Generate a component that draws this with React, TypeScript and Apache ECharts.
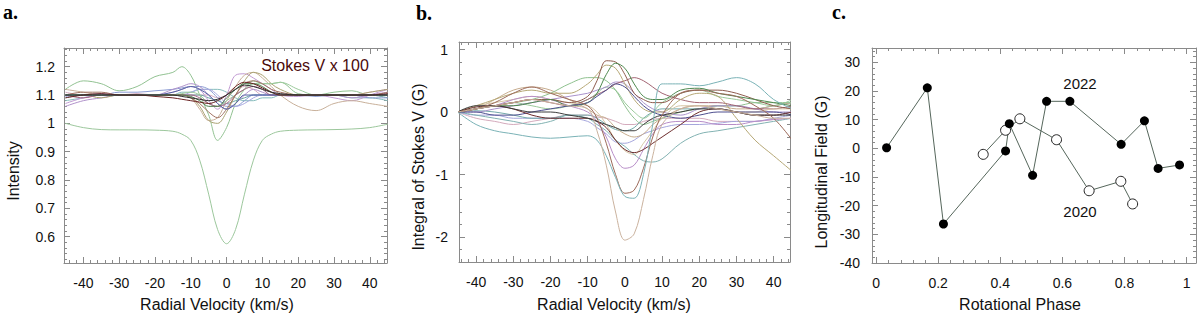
import React, { useEffect, useRef } from "react";
import * as echarts from "echarts";

// ---------- Panel a: velocity grid & profiles ----------
const VA = [-45, -40, -35, -30, -25, -20, -15, -12.5, -10, -7.5, -5, -2.5, 0, 2.5, 5, 7.5, 10, 12.5, 15, 20, 25, 30, 35, 40, 45];
const A_STOKES_I = [1.0, 0.985, 0.978, 0.977, 0.977, 0.976, 0.972, 0.962, 0.94, 0.87, 0.75, 0.625, 0.575, 0.625, 0.75, 0.87, 0.94, 0.962, 0.972, 0.976, 0.977, 0.978, 0.98, 0.985, 0.997];
const A_GREEN_OUT = [1.12, 1.15, 1.14, 1.115, 1.13, 1.165, 1.18, 1.2, 1.17, 1.1, 1.03, 0.94, 0.985, 1.07, 1.12, 1.15, 1.14, 1.14, 1.145, 1.105, 1.1, 1.11, 1.115, 1.1, 1.1];
const A_BLACK = [1.1, 1.1, 1.1, 1.1, 1.1, 1.1, 1.1, 1.095, 1.09, 1.085, 1.08, 1.085, 1.1, 1.12, 1.135, 1.13, 1.12, 1.11, 1.105, 1.1, 1.1, 1.1, 1.1, 1.1, 1.1];
const A_DARKRED = [1.09, 1.1, 1.105, 1.1, 1.1, 1.095, 1.09, 1.085, 1.08, 1.075, 1.07, 1.08, 1.1, 1.13, 1.145, 1.14, 1.125, 1.11, 1.1, 1.1, 1.1, 1.1, 1.1, 1.1, 1.105];
const A_PURPLE = [1.07, 1.09, 1.1, 1.1, 1.1, 1.1, 1.11, 1.12, 1.13, 1.12, 1.08, 1.05, 1.1, 1.17, 1.175, 1.16, 1.14, 1.12, 1.1, 1.095, 1.1, 1.09, 1.08, 1.1, 1.12];
const A_TAN = [1.12, 1.11, 1.1, 1.1, 1.1, 1.1, 1.1, 1.1, 1.09, 1.05, 1.01, 1.02, 1.08, 1.13, 1.17, 1.18, 1.16, 1.13, 1.1, 1.06, 1.045, 1.07, 1.08, 1.07, 1.06];
const A_OLIVE = [1.1, 1.1, 1.09, 1.1, 1.1, 1.1, 1.1, 1.1, 1.09, 1.06, 1.01, 1.0, 1.04, 1.1, 1.15, 1.18, 1.17, 1.14, 1.12, 1.1, 1.1, 1.1, 1.1, 1.11, 1.12];
const A_BLUE = [1.1, 1.1, 1.1, 1.11, 1.11, 1.115, 1.12, 1.125, 1.13, 1.13, 1.12, 1.09, 1.06, 1.06, 1.08, 1.1, 1.1, 1.1, 1.1, 1.1, 1.095, 1.1, 1.1, 1.09, 1.09];
const A_TEAL = [1.08, 1.09, 1.1, 1.1, 1.1, 1.1, 1.1, 1.11, 1.11, 1.12, 1.12, 1.12, 1.11, 1.09, 1.08, 1.08, 1.09, 1.09, 1.1, 1.1, 1.1, 1.1, 1.09, 1.09, 1.08];
const A_PURPLE2 = [1.06, 1.08, 1.09, 1.1, 1.1, 1.1, 1.12, 1.13, 1.14, 1.13, 1.1, 1.07, 1.05, 1.07, 1.1, 1.12, 1.11, 1.1, 1.1, 1.1, 1.1, 1.1, 1.09, 1.1, 1.11];
const A_NAVY = [1.1, 1.1, 1.1, 1.1, 1.1, 1.1, 1.11, 1.12, 1.13, 1.12, 1.1, 1.07, 1.05, 1.07, 1.1, 1.1, 1.1, 1.1, 1.1, 1.1, 1.1, 1.1, 1.1, 1.1, 1.1];
const A_DKGREEN = [1.1, 1.1, 1.1, 1.1, 1.1, 1.1, 1.1, 1.1, 1.095, 1.08, 1.06, 1.06, 1.09, 1.12, 1.14, 1.14, 1.13, 1.11, 1.1, 1.1, 1.1, 1.1, 1.1, 1.1, 1.1];
const A_BROWN = [1.1, 1.11, 1.11, 1.1, 1.1, 1.1, 1.1, 1.1, 1.09, 1.07, 1.04, 1.02, 1.05, 1.1, 1.14, 1.15, 1.14, 1.12, 1.11, 1.1, 1.1, 1.1, 1.1, 1.1, 1.11];
const A_PINK = [1.11, 1.1, 1.1, 1.1, 1.105, 1.1, 1.1, 1.1, 1.1, 1.1, 1.1, 1.09, 1.1, 1.12, 1.13, 1.12, 1.1, 1.1, 1.1, 1.1, 1.1, 1.1, 1.1, 1.11, 1.12];
const A_LTGREEN = [1.1, 1.1, 1.1, 1.1, 1.1, 1.1, 1.1, 1.105, 1.11, 1.1, 1.07, 1.06, 1.08, 1.1, 1.12, 1.14, 1.14, 1.14, 1.145, 1.12, 1.1, 1.1, 1.1, 1.1, 1.1];
const A_TEAL2 = [1.09, 1.1, 1.1, 1.1, 1.1, 1.1, 1.1, 1.1, 1.1, 1.1, 1.09, 1.08, 1.07, 1.08, 1.09, 1.1, 1.1, 1.1, 1.1, 1.1, 1.1, 1.1, 1.1, 1.1, 1.09];
const A_LAVENDER = [1.095, 1.1, 1.105, 1.1, 1.1, 1.1, 1.1, 1.1, 1.11, 1.12, 1.12, 1.1, 1.07, 1.06, 1.07, 1.09, 1.1, 1.1, 1.1, 1.1, 1.1, 1.1, 1.1, 1.1, 1.1];
const A_MAUVE = [1.1, 1.09, 1.1, 1.1, 1.1, 1.1, 1.1, 1.1, 1.1, 1.09, 1.07, 1.06, 1.07, 1.1, 1.12, 1.13, 1.12, 1.1, 1.1, 1.1, 1.1, 1.1, 1.1, 1.1, 1.1];

// ---------- Panel b: integrated Stokes V ----------
const VB = [-45, -40, -35, -30, -25, -20, -15, -10, -7.5, -5, -2.5, 0, 2.5, 5, 7.5, 10, 15, 20, 25, 30, 35, 40, 45];
const B_TAN_DEEP = [0, 0.05, 0.1, 0.15, 0.2, 0.15, 0.1, 0.05, -0.3, -0.85, -1.6, -2.05, -1.95, -1.4, -0.7, -0.2, 0.05, 0.1, 0.05, 0.0, -0.05, -0.1, -0.1];
const B_TEAL_DEEP = [0, -0.2, -0.3, -0.35, -0.4, -0.42, -0.4, -0.38, -0.45, -0.7, -1.05, -1.35, -1.38, -1.0, -0.2, 0.45, 0.45, 0.42, 0.48, 0.55, 0.45, 0.2, 0.05];
const B_BROWN_DEEP = [0, 0.05, 0.15, 0.3, 0.4, 0.3, 0.2, 0.1, -0.1, -0.5, -1.0, -1.3, -1.25, -0.9, -0.4, -0.05, 0.3, 0.35, 0.3, 0.25, 0.1, -0.1, -0.45];
const B_PURPLE = [0, 0.05, 0.1, 0.2, 0.25, 0.2, 0.1, 0.0, -0.15, -0.4, -0.75, -0.9, -0.85, -0.6, -0.35, -0.2, -0.15, -0.15, -0.2, -0.2, -0.15, -0.12, -0.1];
const B_TEAL2 = [0, -0.05, -0.1, -0.15, -0.2, -0.15, -0.05, -0.1, -0.2, -0.3, -0.45, -0.55, -0.68, -0.78, -0.8, -0.75, -0.5, -0.35, -0.3, -0.25, -0.2, -0.15, -0.1];
const B_LTTAN = [0, 0.1, 0.15, 0.2, 0.25, 0.2, 0.15, 0.1, 0.0, -0.2, -0.45, -0.62, -0.68, -0.5, -0.3, -0.1, 0.1, 0.1, 0.05, 0.0, 0.0, 0.05, 0.05];
const B_LAVENDER = [0, -0.05, -0.05, -0.1, -0.1, -0.1, -0.1, -0.15, -0.25, -0.35, -0.48, -0.5, -0.45, -0.35, -0.3, -0.25, -0.2, -0.2, -0.18, -0.15, -0.15, -0.1, -0.05];
const B_OLIVE = [0, 0.1, 0.2, 0.3, 0.35, 0.3, 0.3, 0.45, 0.6, 0.75, 0.7, 0.45, 0.2, 0.05, 0.0, 0.0, 0.2, 0.3, 0.25, -0.1, -0.45, -0.7, -0.95];
const B_BROWN_PEAK = [0, 0.05, 0.1, 0.15, 0.2, 0.2, 0.15, 0.25, 0.5, 0.82, 0.8, 0.6, 0.3, 0.2, 0.15, 0.15, 0.3, 0.35, 0.35, 0.3, 0.2, 0.1, 0.05];
const B_DKGREEN = [0, 0.05, 0.1, 0.1, 0.15, 0.2, 0.1, 0.15, 0.3, 0.6, 0.78, 0.7, 0.45, 0.25, 0.2, 0.2, 0.35, 0.38, 0.3, 0.25, 0.2, 0.15, 0.1];
const B_GREEN = [0, 0.05, 0.1, 0.15, 0.2, 0.3, 0.45, 0.55, 0.55, 0.5, 0.35, 0.1, -0.1, -0.2, -0.15, -0.1, 0.0, 0.05, 0.1, 0.1, 0.15, 0.15, 0.15];
const B_MAUVE = [0, 0.05, 0.1, 0.15, 0.2, 0.15, 0.1, 0.2, 0.28, 0.35, 0.45, 0.5, 0.55, 0.5, 0.4, 0.3, 0.2, 0.15, 0.15, 0.1, 0.05, 0.05, 0.1];
const B_PURPLE2 = [0, 0.0, 0.05, 0.1, 0.15, 0.2, 0.25, 0.3, 0.35, 0.4, 0.48, 0.45, 0.3, 0.15, 0.05, 0.0, -0.05, 0.05, 0.1, 0.1, 0.05, 0.0, 0.0];
const B_NAVY = [0, 0.0, -0.05, -0.05, 0.0, 0.05, 0.1, 0.15, 0.25, 0.35, 0.45, 0.4, 0.25, 0.1, 0.0, -0.05, -0.1, -0.05, 0.0, 0.0, 0.0, 0.0, -0.05];
const B_BLACK = [0, 0.1, 0.1, 0.05, 0.0, 0.0, -0.05, -0.1, -0.15, -0.2, -0.25, -0.3, -0.3, -0.2, -0.1, -0.05, 0.0, 0.05, 0.05, 0.0, -0.05, -0.05, -0.05];
const B_DARKRED = [0, 0.08, 0.1, 0.05, -0.05, -0.1, -0.1, -0.1, -0.15, -0.25, -0.45, -0.6, -0.65, -0.6, -0.5, -0.4, -0.2, 0.0, 0.05, 0.0, -0.05, -0.05, 0.0];
const B_TEAL3 = [0, 0.02, 0.0, -0.05, -0.1, -0.1, -0.05, -0.05, -0.1, -0.2, -0.28, -0.3, -0.25, -0.1, 0.0, 0.05, 0.05, 0.05, 0.1, 0.1, 0.05, 0.1, 0.15];
const B_PINK = [0, -0.1, -0.15, -0.2, -0.15, -0.1, -0.05, -0.05, -0.08, -0.1, -0.15, -0.2, -0.2, -0.15, -0.12, -0.1, -0.1, -0.1, -0.15, -0.15, -0.15, -0.12, -0.1];
const B_LTGREEN = [0, 0.05, 0.1, 0.15, 0.1, 0.05, 0.1, 0.2, 0.3, 0.4, 0.35, 0.15, 0.0, -0.1, 0.0, 0.15, 0.3, 0.35, 0.25, 0.2, 0.15, 0.1, 0.2];
const B_TAN2 = [0, 0.05, 0.2, 0.35, 0.4, 0.35, 0.2, 0.05, -0.05, -0.1, -0.25, -0.35, -0.4, -0.35, -0.2, -0.1, 0.05, 0.1, 0.1, 0.05, 0.05, 0.1, 0.15];

// ---------- Panel c: longitudinal field ----------
const PHASE_2022 = [0.034, 0.165, 0.217, 0.417, 0.429, 0.504, 0.549, 0.624, 0.789, 0.864, 0.908, 0.977];
const BL_2022 = [0.2, 21.1, -26.4, -0.9, 8.6, -9.4, 16.4, 16.4, 1.4, 9.6, -7.0, -5.8];
const PHASE_2020 = [0.345, 0.417, 0.463, 0.581, 0.686, 0.788, 0.826];
const BL_2020 = [-2.1, 6.3, 10.3, 3.0, -14.8, -11.5, -19.4];

// ---------- tick labels ----------
const VEL_TICKS = [-40, -30, -20, -10, 0, 10, 20, 30, 40];
const A_Y_TICKS = [0.6, 0.7, 0.8, 0.9, 1, 1.1, 1.2];
const B_Y_TICKS = [-2, -1, 0, 1];
const C_X_TICKS = [0, 0.2, 0.4, 0.6, 0.8, 1];
const C_Y_TICKS = [-40, -30, -20, -10, 0, 10, 20, 30];

const FONT = "'Liberation Sans', Arial, Helvetica, sans-serif";
const FRAME = "#8a8a8a";

const A_LINES: [number[], string][] = [
  [A_STOKES_I, "#9cc79c"],
  [A_GREEN_OUT, "#92c292"],
  [A_PINK, "#d4aac0"],
  [A_TEAL, "#86bcbc"],
  [A_TEAL2, "#6aa2a2"],
  [A_BLUE, "#8a9ad2"],
  [A_LAVENDER, "#a8a8e0"],
  [A_PURPLE, "#c09ad2"],
  [A_PURPLE2, "#b092ca"],
  [A_TAN, "#c8b09a"],
  [A_OLIVE, "#aaa272"],
  [A_LTGREEN, "#9cca9c"],
  [A_MAUVE, "#a46484"],
  [A_BROWN, "#a07262"],
  [A_NAVY, "#5262a2"],
  [A_DKGREEN, "#4c7c4c"],
  [A_DARKRED, "#6a2222"],
  [A_BLACK, "#303030"],
];

const B_LINES: [number[], string][] = [
  [B_PINK, "#d4aabc"],
  [B_LAVENDER, "#a6a6dc"],
  [B_TEAL3, "#74aaaa"],
  [B_TAN2, "#c6ac8e"],
  [B_LTGREEN, "#9aca9a"],
  [B_GREEN, "#8ec08e"],
  [B_PURPLE2, "#aa92cc"],
  [B_MAUVE, "#a26472"],
  [B_LTTAN, "#d6c6a6"],
  [B_TEAL2, "#82b2b2"],
  [B_PURPLE, "#b88ec8"],
  [B_OLIVE, "#b6a876"],
  [B_BROWN_PEAK, "#8e5c4e"],
  [B_DKGREEN, "#4e884e"],
  [B_NAVY, "#4e4e8e"],
  [B_DARKRED, "#6c2c2c"],
  [B_BLACK, "#3c3c3c"],
  [B_BROWN_DEEP, "#9c6a5a"],
  [B_TEAL_DEEP, "#7ab2b6"],
  [B_TAN_DEEP, "#cab29e"],
];

function range(from: number, to: number, step: number): number[] {
  const out: number[] = [];
  for (let v = from; v <= to + 1e-9; v += step) out.push(Math.round(v * 1000) / 1000);
  return out;
}

function frameAxes(kind: "x" | "y", gridIndex: number, min: number, max: number, majors: number[], minors: number[], labelMargin: number) {
  const main = kind === "x" ? "bottom" : "left";
  const opp = kind === "x" ? "top" : "right";
  const base = {
    type: "value",
    gridIndex,
    min,
    max,
    splitLine: { show: false },
    minorTick: { show: false },
    minorSplitLine: { show: false },
  };
  const line = { show: true, onZero: false, lineStyle: { color: FRAME, width: 1 } };
  const noLine = { show: false, onZero: false };
  const tickStyle = { color: FRAME, width: 1 };
  return [
    {
      ...base,
      position: main,
      axisLine: line,
      axisTick: { show: true, inside: true, length: 6, customValues: majors, lineStyle: tickStyle },
      axisLabel: {
        show: true,
        customValues: majors,
        margin: labelMargin,
        fontSize: 14,
        fontFamily: FONT,
        color: "#111",
        formatter: (v: number) => String(v),
      },
    },
    {
      ...base,
      position: opp,
      axisLine: line,
      axisTick: { show: true, inside: true, length: 6, customValues: majors, lineStyle: tickStyle },
      axisLabel: { show: false },
    },
    {
      ...base,
      position: main,
      axisLine: noLine,
      axisTick: { show: true, inside: true, length: 3, customValues: minors, lineStyle: tickStyle },
      axisLabel: { show: false },
    },
    {
      ...base,
      position: opp,
      axisLine: noLine,
      axisTick: { show: true, inside: true, length: 3, customValues: minors, lineStyle: tickStyle },
      axisLabel: { show: false },
    },
  ];
}

function txt(text: string, x: number, y: number, size: number, opts: any = {}) {
  return {
    type: "text",
    x,
    y,
    rotation: opts.rotation || 0,
    silent: true,
    style: {
      text,
      fontSize: size,
      fontFamily: opts.family || FONT,
      fontWeight: opts.weight || "normal",
      fill: opts.color || "#111",
      textAlign: opts.align || "center",
      align: opts.align || "center",
      textVerticalAlign: "middle",
      verticalAlign: "middle",
    },
  };
}

export default function App() {
  const ref = useRef<HTMLDivElement>(null);

  useEffect(() => {
    document.body.style.margin = "0";
    if (!ref.current) return;
    const chart = echarts.init(ref.current, undefined, { renderer: "svg" });

    const xAxis = [
      ...frameAxes("x", 0, -45.4, 44.8, VEL_TICKS, range(-44, 44, 2), 13),
      ...frameAxes("x", 1, -44.6, 44.4, VEL_TICKS, range(-44, 44, 2), 13),
      ...frameAxes("x", 2, -0.013, 1.03, C_X_TICKS, range(0, 1.0, 0.04), 13),
    ];
    const yAxis = [
      ...frameAxes("y", 0, 0.507, 1.266, A_Y_TICKS, range(0.52, 1.26, 0.02), 9),
      ...frameAxes("y", 1, -2.4, 1.12, B_Y_TICKS, range(-2.4, 1.1, 0.2), 11),
      ...frameAxes("y", 2, -40, 35, C_Y_TICKS, range(-40, 34, 2), 12),
    ];

    const series: any[] = [];
    A_LINES.forEach(([arr, color]) => {
      series.push({
        type: "line",
        xAxisIndex: 0,
        yAxisIndex: 0,
        data: VA.map((v, i) => [v, arr[i]]),
        showSymbol: false,
        smooth: 0.35,
        lineStyle: { color, width: 1 },
        itemStyle: { color },
        silent: true,
      });
    });
    B_LINES.forEach(([arr, color]) => {
      series.push({
        type: "line",
        xAxisIndex: 4,
        yAxisIndex: 4,
        data: VB.map((v, i) => [v, arr[i]]),
        showSymbol: false,
        smooth: 0.35,
        lineStyle: { color, width: 1 },
        itemStyle: { color },
        silent: true,
      });
    });
    series.push({
      type: "line",
      xAxisIndex: 8,
      yAxisIndex: 8,
      data: PHASE_2020.map((p, i) => [p, BL_2020[i]]),
      symbol: "circle",
      symbolSize: 10,
      lineStyle: { color: "#55665b", width: 1 },
      itemStyle: { color: "#fff", borderColor: "#222", borderWidth: 1 },
      silent: true,
    });
    series.push({
      type: "line",
      xAxisIndex: 8,
      yAxisIndex: 8,
      data: PHASE_2022.map((p, i) => [p, BL_2022[i]]),
      symbol: "circle",
      symbolSize: 9,
      lineStyle: { color: "#55665b", width: 1 },
      itemStyle: { color: "#000", borderColor: "#000", borderWidth: 0 },
      silent: true,
    });

    const SERIF = "'Liberation Serif', 'Times New Roman', serif";
    const graphic = [
      txt("a.", 3, 12, 20, { family: SERIF, weight: "bold", align: "left", color: "#000" }),
      txt("b.", 416, 13, 20, { family: SERIF, weight: "bold", align: "left", color: "#000" }),
      txt("c.", 832, 12, 20, { family: SERIF, weight: "bold", align: "left", color: "#000" }),
      txt("Radial Velocity (km/s)", 217, 304, 16),
      txt("Radial Velocity (km/s)", 614, 304, 16),
      txt("Rotational Phase", 1020, 304, 16),
      txt("Intensity", 13, 171, 16, { rotation: Math.PI / 2 }),
      txt("Integral of Stokes V (G)", 418, 167, 16, { rotation: Math.PI / 2 }),
      txt("Longitudinal Field (G)", 821, 172, 16, { rotation: Math.PI / 2 }),
      txt("Stokes V x 100", 315, 65, 16, { color: "#4a0a0a" }),
      txt("2022", 1080, 83, 15),
      txt("2020", 1080, 211, 15),
    ];

    chart.setOption({
      animation: false,
      backgroundColor: "#fff",
      grid: [
        { left: 64, top: 48, width: 323, height: 215 },
        { left: 459, top: 42, width: 331, height: 220 },
        { left: 872, top: 48, width: 324, height: 215 },
      ],
      xAxis,
      yAxis,
      series,
      graphic,
    });

    return () => chart.dispose();
  }, []);

  return <div ref={ref} style={{ width: 1200, height: 314 }} />;
}
